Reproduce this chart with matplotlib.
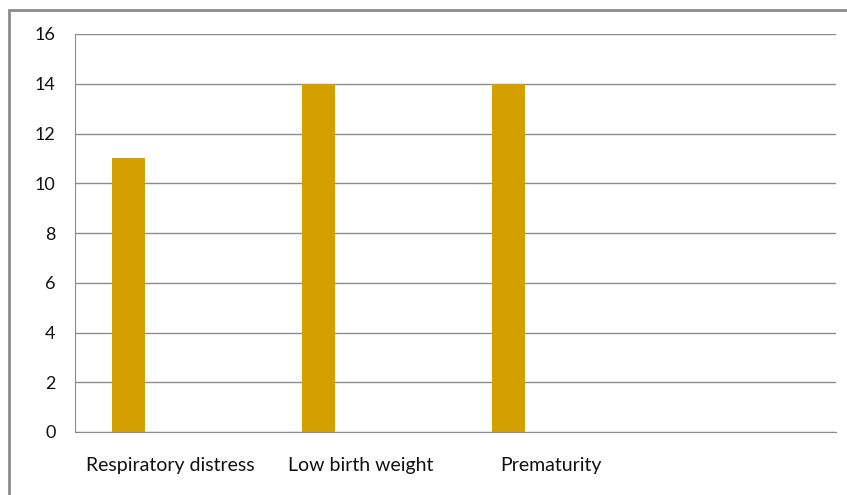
import matplotlib
matplotlib.use("Agg")
import matplotlib.pyplot as plt
from matplotlib.patches import Rectangle
import numpy as np

# data
categories = ['Respiratory distress', 'Low birth weight', 'Prematurity', '']
cases = [11, 14, 14, 0]
y_ticks = [0, 2, 4, 6, 8, 10, 12, 14, 16]

plt.rcParams['font.family'] = ['Lato', 'DejaVu Sans']

fig = plt.figure(figsize=(8.47, 4.95), dpi=100)
ax = fig.add_axes([75 / 847, 1 - 432 / 495, (836 - 75) / 847, (432 - 34) / 495])

ind = np.arange(len(categories))
# bars sit left of each category centre (first series of a clustered chart)
ax.bar(ind[:3] - 0.22, cases[:3], 0.175, color='#D4A000', zorder=3)

ax.set_xlim(-0.5, len(categories) - 0.5)
ax.set_ylim(0, 16)
ax.set_yticks(y_ticks)
ax.set_xticks(ind)
ax.set_xticklabels(categories, fontsize=14, color='#111111')
ax.tick_params(axis='y', labelsize=13, colors='#111111', length=0, pad=14)
ax.tick_params(axis='x', length=0, pad=18)
ax.yaxis.grid(True, color='#8c8c8c', linewidth=1.0, zorder=0)

for side in ['top', 'right']:
    ax.spines[side].set_visible(False)
ax.spines['left'].set_color('#8c8c8c')
ax.spines['bottom'].set_color('#8c8c8c')

# outer chart border (runs off right and bottom of the image)
fig.add_artist(Rectangle((9 / 847, -0.1), 1.2, 1.1 - 10 / 495,
                         transform=fig.transFigure, fill=False,
                         edgecolor='#8c8c8c', linewidth=2.0))

fig.savefig('out.png', dpi=100)
